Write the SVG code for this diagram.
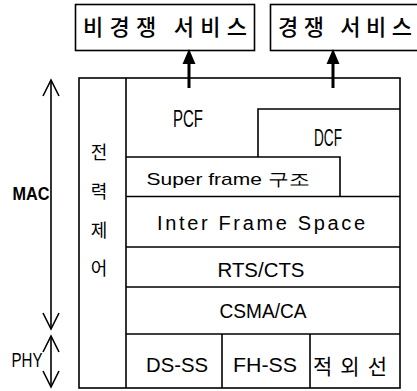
<svg xmlns="http://www.w3.org/2000/svg" width="417" height="391" viewBox="0 0 417 391">
<style>
.bx{fill:#fff;stroke:#000;stroke-width:1.6}
.ln{fill:none;stroke:#000;stroke-width:1.6}
.ko{font-family:"Noto Sans CJK KR","Noto Sans CJK SC",sans-serif;fill:#000}
.la{font-family:"Liberation Sans",Arial,sans-serif;fill:#000}
.ch{fill:none;stroke:#000;stroke-width:1.6}
</style>
<rect width="417" height="391" fill="#fff"/>

<g id="svc-noncontention">
<rect class="bx" x="75.5" y="4.5" width="179" height="46"/>
<text class="ko" x="165" y="35" font-size="22" font-weight="500" text-anchor="middle" textLength="164" lengthAdjust="spacing">비경쟁 서비스</text>
</g>
<g id="svc-contention">
<rect class="bx" x="270.5" y="4.5" width="150" height="46"/>
<text class="ko" x="345" y="35" font-size="22" font-weight="500" text-anchor="middle" textLength="134" lengthAdjust="spacing">경쟁 서비스</text>
</g>

<g id="mac-frame">
<rect class="ln" x="79" y="78" width="321" height="310" stroke-width="2"/>
<line class="ln" x1="126" y1="78" x2="126" y2="388"/>
</g>

<g id="power-control">
<text class="ko" x="99" y="159" font-size="18" text-anchor="middle">전</text>
<text class="ko" x="99" y="198" font-size="18" text-anchor="middle">력</text>
<text class="ko" x="99" y="237" font-size="18" text-anchor="middle">제</text>
<text class="ko" x="99" y="275" font-size="18" text-anchor="middle">어</text>
</g>

<g id="pcf">
<text class="la" x="188" y="127" font-size="23" text-anchor="middle" textLength="30" lengthAdjust="spacingAndGlyphs">PCF</text>
</g>
<g id="dcf">
<polyline class="ln" points="258,157 258,109 400,109"/>
<text class="la" x="328" y="146" font-size="23" text-anchor="middle" textLength="28" lengthAdjust="spacingAndGlyphs">DCF</text>
</g>
<g id="superframe">
<polyline class="ln" points="126,157 340,157 340,196"/>
<text class="la" x="228" y="185" font-size="17" text-anchor="middle" textLength="163" lengthAdjust="spacingAndGlyphs">Super frame 구조</text>
</g>
<g id="ifs">
<line class="ln" x1="126" y1="196.5" x2="400" y2="196.5"/>
<text class="la" x="261" y="230" font-size="20" text-anchor="middle" textLength="208" lengthAdjust="spacing">Inter Frame Space</text>
</g>
<g id="rtscts">
<line class="ln" x1="126" y1="247" x2="400" y2="247"/>
<text class="la" x="261" y="277" font-size="21" text-anchor="middle" textLength="87" lengthAdjust="spacingAndGlyphs">RTS/CTS</text>
</g>
<g id="csmaca">
<line class="ln" x1="126" y1="287" x2="400" y2="287"/>
<text class="la" x="263" y="318" font-size="21" text-anchor="middle" textLength="87" lengthAdjust="spacingAndGlyphs">CSMA/CA</text>
</g>
<g id="phy-row">
<line class="ln" x1="126" y1="334" x2="400" y2="334"/>
<line class="ln" x1="222" y1="334" x2="222" y2="388"/>
<line class="ln" x1="310" y1="334" x2="310" y2="388"/>
<text class="la" x="177" y="372" font-size="21" text-anchor="middle" textLength="62" lengthAdjust="spacingAndGlyphs">DS-SS</text>
<text class="la" x="265" y="372" font-size="21" text-anchor="middle" textLength="64" lengthAdjust="spacingAndGlyphs">FH-SS</text>
<text class="ko" x="350" y="374" font-size="21" text-anchor="middle" textLength="74" lengthAdjust="spacing">적외선</text>
</g>

<g id="mac-label">
<text class="la" x="31" y="200" font-size="19" font-weight="bold" text-anchor="middle" textLength="37" lengthAdjust="spacingAndGlyphs">MAC</text>
</g>
<g id="phy-label">
<text class="la" x="27" y="367" font-size="20" text-anchor="middle" textLength="31" lengthAdjust="spacingAndGlyphs">PHY</text>
</g>

<g id="connectors">
<line x1="189" y1="88" x2="189" y2="63" stroke="#000" stroke-width="3"/>
<path d="M189,49 L182.5,64 L195.5,64 Z" fill="#000"/>
<line x1="333" y1="88" x2="333" y2="63" stroke="#000" stroke-width="3"/>
<path d="M333,49 L326.5,64 L339.5,64 Z" fill="#000"/>
<line class="ln" x1="51" y1="80" x2="51" y2="329"/>
<polyline class="ch" points="43,96 51,80 59,96"/>
<polyline class="ch" points="43,313 51,329 59,313"/>
<line class="ln" x1="51" y1="336" x2="51" y2="387"/>
<polyline class="ch" points="43,352 51,336 59,352"/>
<polyline class="ch" points="43,371 51,387 59,371"/>
</g>
</svg>
